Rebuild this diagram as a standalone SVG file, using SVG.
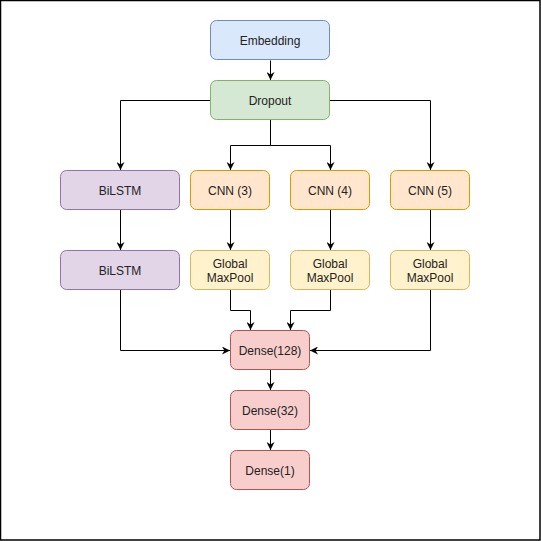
<svg xmlns="http://www.w3.org/2000/svg" width="541" height="541" viewBox="0 0 541 541">
  <style>
    .node rect { stroke-width: 1; }
    .node text { font-family: "Liberation Sans", Arial, sans-serif; font-size: 12px; fill: #222; text-anchor: middle; dominant-baseline: central; }
    .blue rect { fill: #dae8fc; stroke: #6c8ebf; }
    .green rect { fill: #d5e8d4; stroke: #82b366; }
    .purple rect { fill: #e1d5e7; stroke: #9673a6; }
    .orange rect { fill: #ffe6cc; stroke: #d79b00; }
    .yellow rect { fill: #fff2cc; stroke: #d6b656; }
    .red rect { fill: #f8cecc; stroke: #b85450; }
    #connectors path { fill: none; stroke: #000; stroke-width: 1; marker-end: url(#arrow); }
  </style>
  <defs>
    <marker id="arrow" viewBox="0 0 10 10" refX="10" refY="5" markerWidth="8" markerHeight="8" markerUnits="userSpaceOnUse" orient="auto">
      <path d="M0,0 L10,5 L0,10 L3,5 Z" fill="#000"/>
    </marker>
  </defs>
  <rect x="0" y="0" width="541" height="541" fill="#fff"/>
  <rect x="0.5" y="0.5" width="539.5" height="539.5" fill="none" stroke="#000" stroke-width="1.5"/>

  <g id="connectors">
    <path d="M270.5,60.5 V80"/>
    <path d="M210,100.5 H120.5 V170"/>
    <path d="M330,100.5 H430.5 V170"/>
    <path d="M270.5,120 V145.5 H230.5 V170"/>
    <path d="M270.5,145.5 H330.5 V170"/>
    <path d="M120.5,210 V250"/>
    <path d="M230.5,210 V250"/>
    <path d="M330.5,210 V250"/>
    <path d="M430.5,210 V250"/>
    <path d="M230.5,290 V310.5 H250.5 V330"/>
    <path d="M330.5,290 V310.5 H290.5 V330"/>
    <path d="M120.5,290 V350.5 H230"/>
    <path d="M430.5,290 V350.5 H310"/>
    <path d="M270.5,370 V390"/>
    <path d="M270.5,430 V450"/>
  </g>

  <g id="embedding" class="node blue"><rect x="210.5" y="20.5" width="119" height="39" rx="6"/><text x="270" y="41">Embedding</text></g>
  <g id="dropout" class="node green"><rect x="210.5" y="80.5" width="119" height="39" rx="6"/><text x="270" y="101">Dropout</text></g>

  <g id="bilstm1" class="node purple"><rect x="60.5" y="170.5" width="119" height="39" rx="6"/><text x="120" y="191">BiLSTM</text></g>
  <g id="cnn3" class="node orange"><rect x="190.5" y="170.5" width="79" height="39" rx="6"/><text x="230" y="191">CNN (3)</text></g>
  <g id="cnn4" class="node orange"><rect x="290.5" y="170.5" width="79" height="39" rx="6"/><text x="330" y="191">CNN (4)</text></g>
  <g id="cnn5" class="node orange"><rect x="390.5" y="170.5" width="79" height="39" rx="6"/><text x="430" y="191">CNN (5)</text></g>

  <g id="bilstm2" class="node purple"><rect x="60.5" y="250.5" width="119" height="39" rx="6"/><text x="120" y="271">BiLSTM</text></g>
  <g id="pool3" class="node yellow"><rect x="190.5" y="250.5" width="79" height="39" rx="6"/><text x="230" y="264">Global</text><text x="230" y="278">MaxPool</text></g>
  <g id="pool4" class="node yellow"><rect x="290.5" y="250.5" width="79" height="39" rx="6"/><text x="330" y="264">Global</text><text x="330" y="278">MaxPool</text></g>
  <g id="pool5" class="node yellow"><rect x="390.5" y="250.5" width="79" height="39" rx="6"/><text x="430" y="264">Global</text><text x="430" y="278">MaxPool</text></g>

  <g id="dense128" class="node red"><rect x="230.5" y="330.5" width="79" height="39" rx="6"/><text x="270" y="351">Dense(128)</text></g>
  <g id="dense32" class="node red"><rect x="230.5" y="390.5" width="79" height="39" rx="6"/><text x="270" y="411">Dense(32)</text></g>
  <g id="dense1" class="node red"><rect x="230.5" y="450.5" width="79" height="39" rx="6"/><text x="270" y="471">Dense(1)</text></g>
</svg>
